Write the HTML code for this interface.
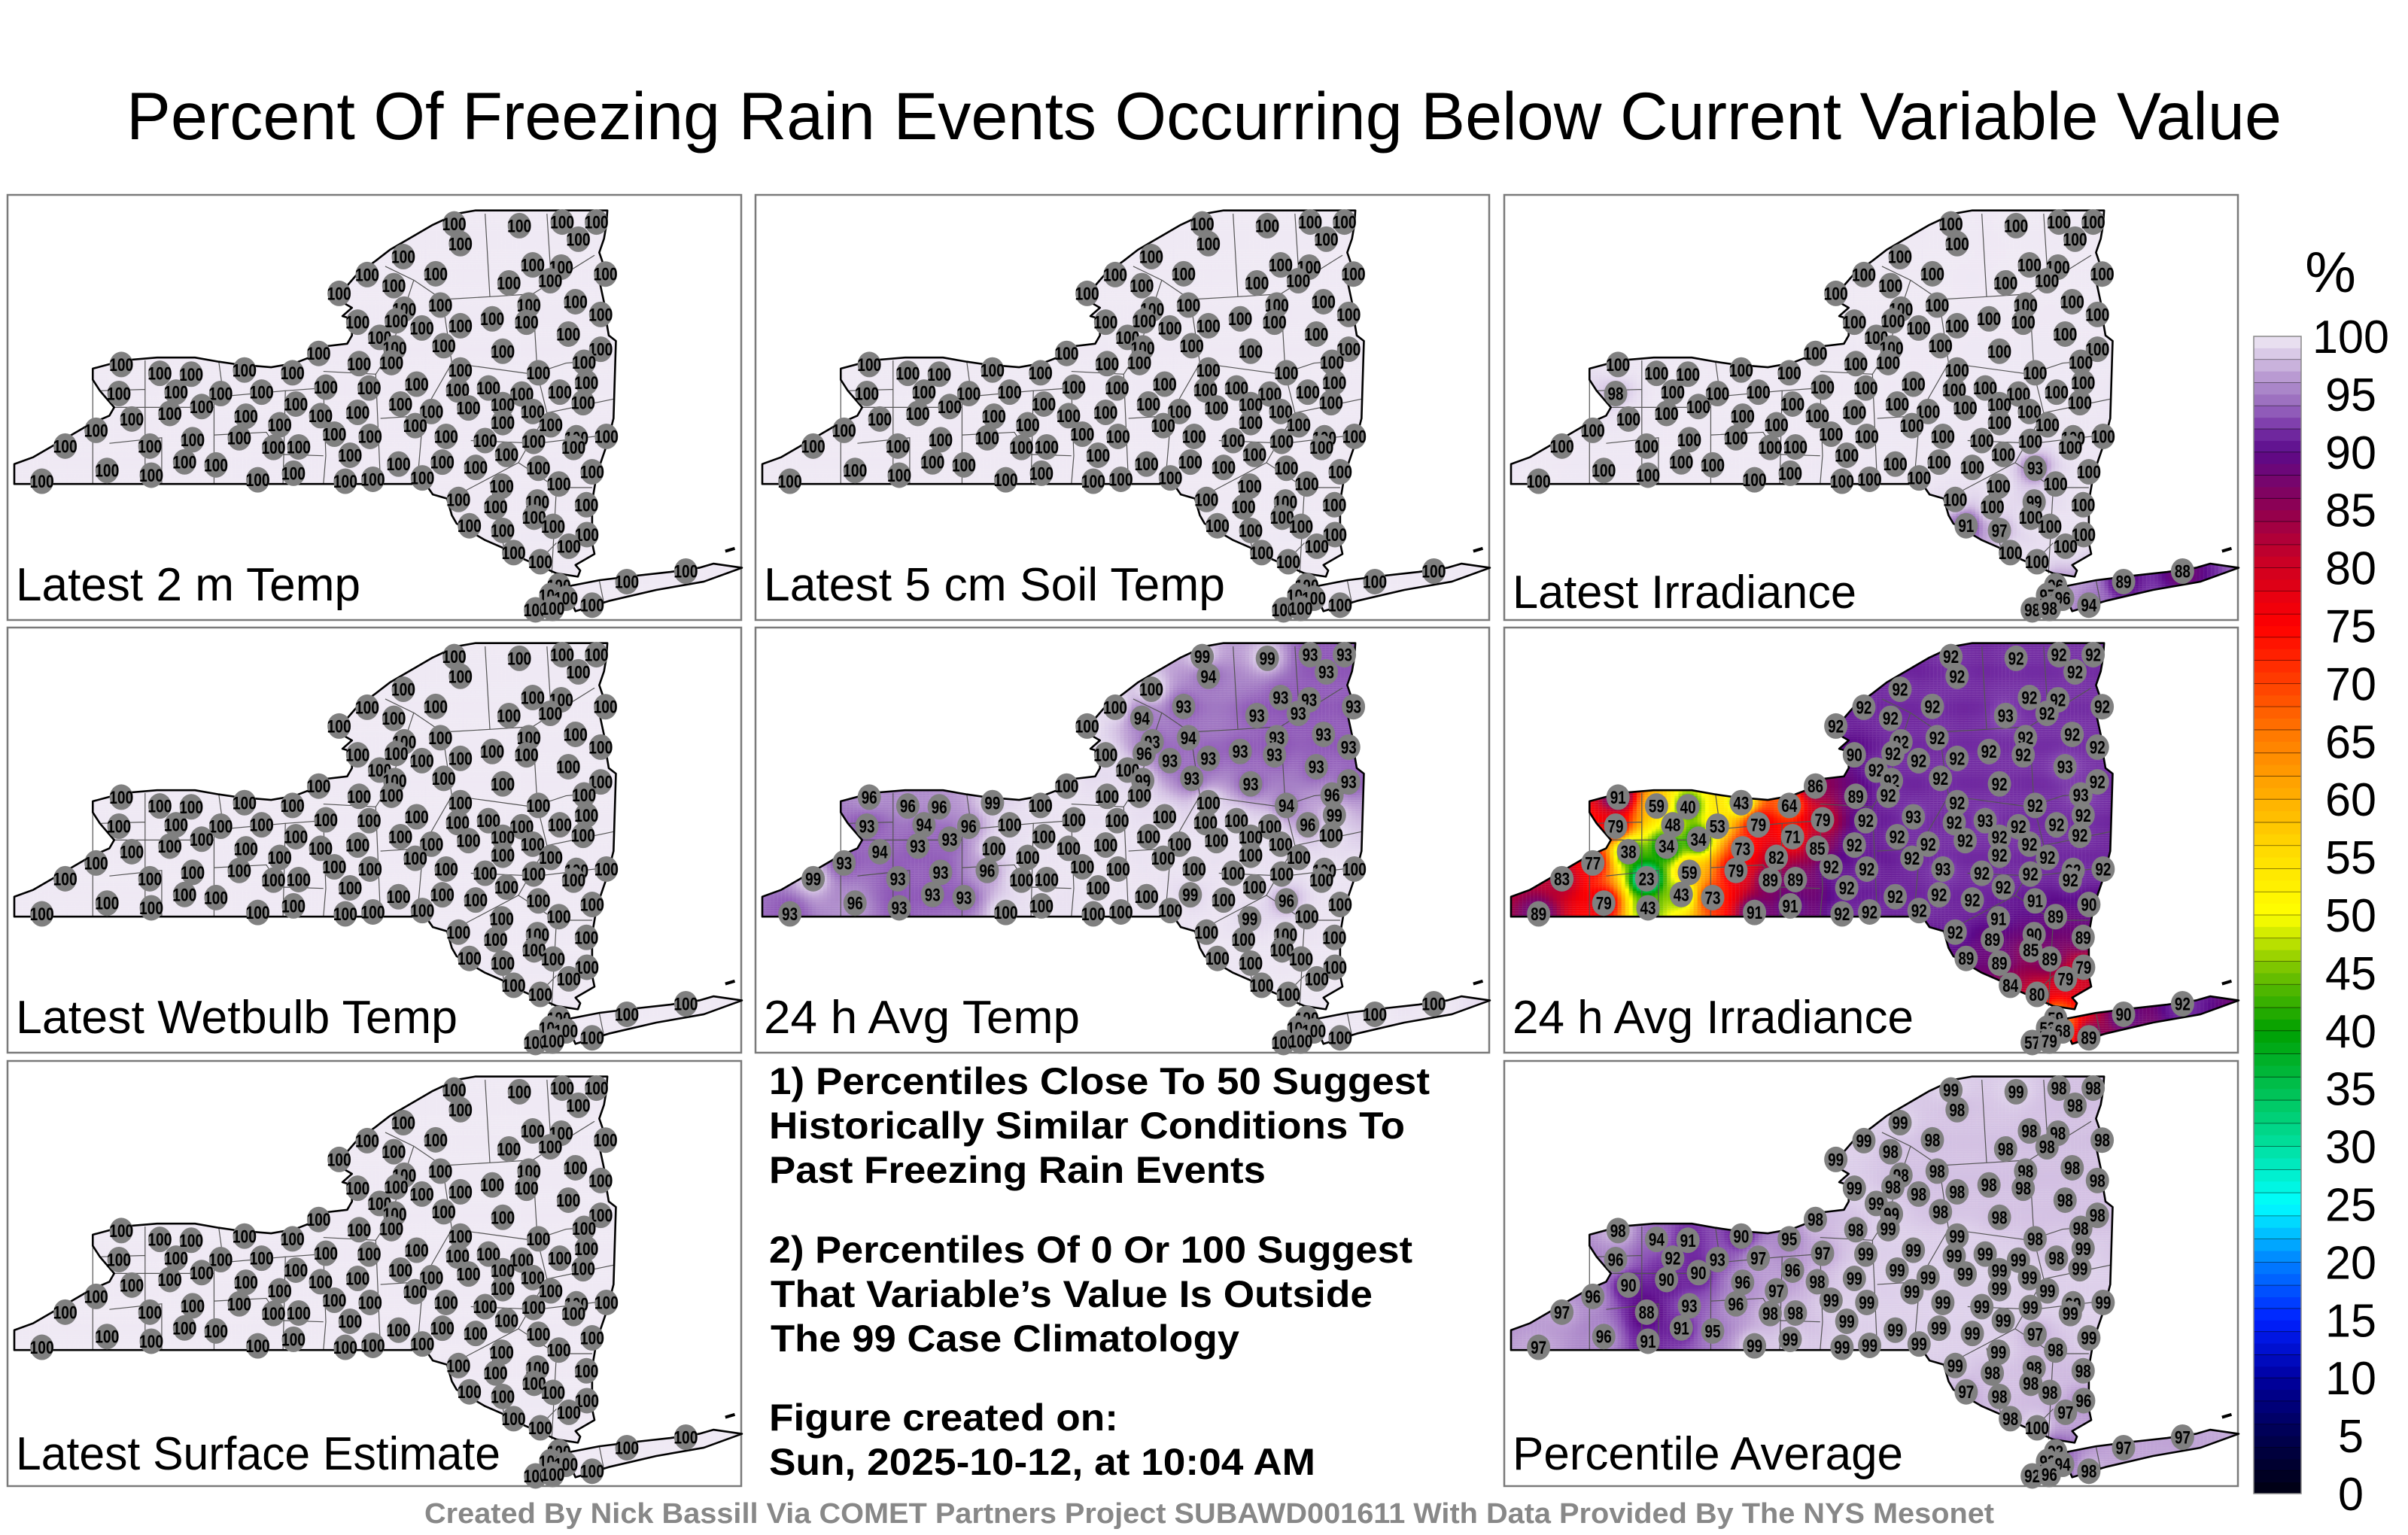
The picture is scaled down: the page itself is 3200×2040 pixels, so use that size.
<!DOCTYPE html>
<html><head><meta charset="utf-8">
<style>
html,body{margin:0;padding:0;background:#fff;}
#wrap{position:relative;width:3200px;height:2040px;overflow:hidden;background:#fff;}
#fills{position:absolute;left:0;top:0;}
#overlay{position:absolute;left:0;top:0;}
text{font-family:"Liberation Sans",Arial,sans-serif;}
</style></head>
<body>
<div id="wrap">
<canvas id="fills" width="3200" height="2040"></canvas>
<svg id="overlay" width="3200" height="2040" xmlns="http://www.w3.org/2000/svg">
<text x="168" y="185" font-size="89" textLength="2864" lengthAdjust="spacingAndGlyphs">Percent Of Freezing Rain Events Occurring Below Current Variable Value</text>
<g font-weight="bold" font-size="50">
<text x="1022" y="1454" textLength="878" lengthAdjust="spacingAndGlyphs">1) Percentiles Close To 50 Suggest</text>
<text x="1022" y="1513" textLength="845" lengthAdjust="spacingAndGlyphs">Historically Similar Conditions To</text>
<text x="1022" y="1572" textLength="660" lengthAdjust="spacingAndGlyphs">Past Freezing Rain Events</text>
<text x="1022" y="1678" textLength="855" lengthAdjust="spacingAndGlyphs">2) Percentiles Of 0 Or 100 Suggest</text>
<text x="1024" y="1737" textLength="800" lengthAdjust="spacingAndGlyphs">That Variable’s Value Is Outside</text>
<text x="1024" y="1796" textLength="623" lengthAdjust="spacingAndGlyphs">The 99 Case Climatology</text>
<text x="1022" y="1901" textLength="464" lengthAdjust="spacingAndGlyphs">Figure created on:</text>
<text x="1022" y="1960" textLength="726" lengthAdjust="spacingAndGlyphs">Sun, 2025-10-12, at 10:04 AM</text>
</g>
<text x="564" y="2024" font-size="38" font-weight="bold" fill="#888" textLength="2086" lengthAdjust="spacingAndGlyphs">Created By Nick Bassill Via COMET Partners Project SUBAWD001611 With Data Provided By The NYS Mesonet</text>
<text x="3097" y="388" font-size="76" text-anchor="middle">%</text>
<g id="panels"></g>
<g id="cbar"></g>
</svg>
</div>
<script>
// ---- data ----
const panelTitles = ["Latest 2 m Temp","Latest 5 cm Soil Temp","Latest Irradiance","Latest Wetbulb Temp","24 h Avg Temp","24 h Avg Irradiance","Latest Surface Estimate","Percentile Average"];
const cbarTicks = [0,5,10,15,20,25,30,35,40,45,50,55,60,65,70,75,80,85,90,95,100];
// station map coordinates (map units)
const stationLon = [925,1062,1152,1224,938,1186,818,742,886,1090,1150,1243,1040,1127,798,683,896,1082,1180,820,1233,722,803,857,938,1005,1077,768,1165,800,903,1233,1027,640,725,793,1198,225,306,372,484,585,938,1102,655,846,1203,220,340,434,520,746,932,997,1067,1147,1196,592,394,812,1027,327,487,644,722,877,955,1090,247,172,558,843,1027,1128,375,473,673,748,908,990,1092,1182,1245,1176,107,285,545,598,706,1035,358,424,808,900,970,1102,1215,195,288,587,512,696,754,858,58,1025,1145,934,1012,1100,1203,1093,957,1027,1133,1204,1166,1050,1106,1145,1288,1412,1128,1160,1096,1132,1215];
const stationLat = [97,103,90,90,168,152,215,280,277,245,253,278,310,302,320,348,390,390,378,405,424,452,447,473,465,440,452,507,495,545,537,550,557,565,602,598,597,605,637,640,625,635,625,635,687,676,670,710,705,710,705,690,697,690,712,705,743,748,757,748,750,782,792,790,778,775,762,775,802,843,823,826,815,823,877,870,857,865,865,880,883,870,865,905,900,900,905,903,933,930,957,968,965,958,977,980,993,988,1005,998,1022,1027,1020,1015,1027,1045,1037,1093,1120,1102,1112,1157,1188,1205,1190,1220,1262,1285,1318,1405,1390,1352,1440,1450,1492,1487,1475];
const latestIrradiance = [100,100,100,100,100,100,100,100,100,100,100,100,100,100,100,100,100,100,100,100,100,100,100,100,100,100,100,100,100,100,100,100,100,100,100,100,100,100,100,100,100,100,100,100,100,100,100,98,100,100,100,100,100,100,100,100,100,100,100,100,100,100,100,100,100,100,100,100,100,100,100,100,100,100,100,100,100,100,100,100,100,100,100,100,100,100,100,100,100,100,100,100,100,100,100,93,100,100,100,100,100,100,100,100,100,100,100,100,100,99,100,100,91,97,100,100,100,100,100,96,89,88,97,96,98,98,94];
const avgTemp = [99,99,93,93,94,93,100,100,93,93,93,93,93,93,94,100,94,93,93,93,93,100,96,93,93,93,93,100,93,99,93,93,93,100,100,100,96,96,96,96,99,100,100,94,100,100,99,93,94,96,100,100,100,100,100,96,100,100,93,100,100,93,100,100,100,100,100,100,94,93,100,100,100,100,93,96,100,100,100,100,100,100,100,100,99,93,100,100,100,100,93,93,100,99,100,96,100,96,93,100,100,100,100,100,93,99,100,100,100,100,100,100,100,100,100,100,100,100,100,100,100,100,100,100,100,100,100];
const avgIrradiance = [92,92,92,92,92,92,92,92,92,92,92,92,93,92,92,92,92,92,92,92,92,90,92,92,92,92,92,92,93,92,92,92,92,86,89,92,93,91,59,40,43,64,92,92,79,93,92,79,48,53,79,92,92,93,92,92,92,71,34,92,92,34,73,85,92,92,92,92,38,77,82,92,92,92,59,79,92,92,93,92,92,92,92,92,83,23,89,89,92,92,43,73,92,92,92,91,90,79,43,91,91,92,92,92,89,91,89,92,89,90,89,85,89,89,89,79,79,84,80,59,90,92,53,68,57,79,89];
const percentileAvg = [99,99,98,98,98,98,99,99,98,98,98,98,98,98,98,99,98,98,98,98,98,99,98,98,98,98,98,99,98,99,98,98,98,98,98,99,98,98,94,91,90,95,99,98,97,99,99,96,92,93,97,99,99,99,99,98,99,96,90,99,99,90,96,98,99,99,99,99,90,96,97,99,99,99,93,96,99,99,99,99,99,99,99,99,97,88,98,98,99,99,91,95,99,99,99,97,99,96,91,99,99,99,99,99,97,99,98,99,98,98,98,98,97,98,98,96,97,98,100,92,97,97,92,94,92,96,98];
const allHundred = stationLon.map(() => 100);
const panelValues = [allHundred, allHundred, latestIrradiance, allHundred, avgTemp, avgIrradiance, allHundred, percentileAvg];

// ---- geometry ----
const panelBoxes = [[10,259],[1004,259],[1999,259],[10,834],[1004,834],[1999,834],[10,1410],[1999,1410]];
const PW=975, PH=565, SX=0.632, SY=0.3676, OX=9, OY=3;
const stateD = "M0,965 L40,940 L100,880 L160,820 L200,790 L210,760 L180,700 L165,660 L165,620 L230,590 L300,580 L380,580 L430,595 L470,605 L540,615 L590,600 L620,580 L650,540 L700,530 L710,500 L710,440 L690,430 L710,400 L690,380 L700,320 L720,280 L760,230 L790,190 L840,140 L880,100 L930,60 L970,48 L1247,48 L1245,100 L1240,150 L1230,200 L1240,250 L1230,300 L1240,380 L1245,450 L1250,500 L1265,520 L1260,800 L1245,900 L1225,1000 L1215,1100 L1215,1250 L1220,1290 L1180,1330 L1190,1350 L1185,1372 L1140,1360 L1100,1330 L1060,1300 L1030,1270 L990,1240 L960,1210 L930,1180 L920,1150 L910,1090 L880,1075 L870,1050 L860,1037 L0,1037 Z "+
 "M1170,1405 L1230,1385 L1300,1370 L1380,1355 L1440,1340 L1470,1325 L1530,1340 L1450,1390 L1350,1420 L1250,1460 L1180,1497 L1165,1440 Z "+
 "M1100,1470 L1130,1455 L1150,1480 L1120,1500 L1090,1495 Z";
const countyD = "M165,620 L165,1037 M275,590 L275,1037 M180,700 L275,695 M210,760 L275,760 M200,890 L310,870 L310,1037 M275,760 L420,760 M420,700 L420,1037 M420,860 L530,850 L560,930 L650,935 M430,595 L440,720 L570,700 L565,1037 M570,700 L650,690 L655,935 L650,1037 M650,630 L760,640 L770,1037 M760,640 L790,560 L840,300 L780,250 M840,300 L900,370 L1000,360 L1090,350 L1220,210 M1000,360 L990,60 M1120,60 L1130,330 M900,370 L920,600 L860,780 L850,980 L860,1037 M770,800 L860,790 M920,600 L1090,640 L1160,600 L1230,590 M1090,350 L1100,640 L1120,780 L1260,730 M1120,780 L1060,960 L950,1060 M960,880 L1100,890 L1245,860 M1060,960 L1140,1050 L1215,1050 M1000,1030 L1030,1270 M1140,1050 L1130,1360 M1140,1250 L1100,1320 M1230,1385 L1240,1470";

const colorStops = [[0,[0,0,16]],[5,[0,0,80]],[10,[0,0,160]],[15,[0,32,255]],[20,[0,128,255]],[25,[0,255,255]],[30,[0,224,160]],[35,[0,192,80]],[40,[0,160,0]],[45,[112,192,0]],[50,[255,255,0]],[55,[255,224,0]],[60,[255,176,0]],[65,[255,128,0]],[70,[255,64,0]],[75,[255,0,0]],[80,[208,0,32]],[85,[144,0,80]],[90,[92,10,138]],[92,[117,48,165]],[93,[138,80,181]],[95,[163,124,196]],[97,[192,164,214]],[98,[210,191,226]],[99,[224,212,236]],[100,[239,233,244]]];
function colorOf(v){
  if(v<=0) return colorStops[0][1];
  for(let i=1;i<colorStops.length;i++){
    const a=colorStops[i-1], b=colorStops[i];
    if(v<=b[0]){const t=(v-a[0])/(b[0]-a[0]);return [0,1,2].map(k=>Math.round(a[1][k]+(b[1][k]-a[1][k])*t));}
  }
  return colorStops[colorStops.length-1][1];
}

// ---- fills ----
const ctx=document.getElementById('fills').getContext('2d');
const statePath=new Path2D(stateD);
panelBoxes.forEach((b,pi)=>{
  const vals=panelValues[pi];
  ctx.save();
  ctx.translate(b[0]+OX,b[1]+OY); ctx.scale(SX,SY);
  ctx.clip(statePath);
  const step=8;
  for(let y=40;y<1505;y+=step){
    for(let x=0;x<1540;x+=step){
      const cx=x+step/2, cy=y+step/2;
      let ws=0, vs=0;
      for(let s=0;s<stationLon.length;s++){
        const dx=(cx-stationLon[s])*SX, dy=(cy-stationLat[s])*SY;
        const d2=dx*dx+dy*dy+4;
        const w=1/Math.pow(d2,1.3);
        ws+=w; vs+=w*vals[s];
      }
      const c=colorOf(vs/ws);
      ctx.fillStyle='rgb('+c[0]+','+c[1]+','+c[2]+')';
      ctx.fillRect(x,y,step+0.6,step+0.6);
    }
  }
  ctx.restore();
});

// ---- svg panels ----
const NS='http://www.w3.org/2000/svg';
const pg=document.getElementById('panels');
function mk(tag,attrs,parent){const e=document.createElementNS(NS,tag);for(const k in attrs)e.setAttribute(k,attrs[k]);parent.appendChild(e);return e;}
const labelWidths=[458,613,457,587,420,533,644,519];
const labelDy=[26,26,16,26,26,26,22,22];
panelBoxes.forEach((b,pi)=>{
  const g=mk('g',{},pg);
  
  
  const box=mk('rect',{x:b[0],y:b[1],width:PW,height:PH,fill:'none',stroke:'#7a7a7a','stroke-width':2.5},g);
  
  
  const mg=mk('g',{transform:'translate('+(b[0]+OX)+','+(b[1]+OY)+') scale('+SX+','+SY+')'},g);
  const cty=mk('path',{d:countyD,fill:'none',stroke:'#555','stroke-width':1.2,'vector-effect':'non-scaling-stroke'},mg);
  
  
  const st=mk('path',{d:stateD,fill:'none',stroke:'#000','stroke-width':2.6,'stroke-linejoin':'round','vector-effect':'non-scaling-stroke'},mg);
  
  
  const isl=mk('path',{d:'M1495,1280 L1515,1270',fill:'none',stroke:'#000','stroke-width':4,'vector-effect':'non-scaling-stroke'},mg);
  
  
  const vals=panelValues[pi];
  stationLon.forEach((mx,s)=>{
    const x=b[0]+OX+mx*SX, y=b[1]+OY+stationLat[s]*SY;
    const sg=mk('g',{},g);
    
    
    mk('ellipse',{cx:x,cy:y,rx:15.5,ry:17,fill:'#808080'},sg);
    const label=String(vals[s]);
    const t=mk('text',{x:x,y:y+8.5,'font-size':24,'font-weight':'bold','text-anchor':'middle',textLength:label.length>2?32:21,lengthAdjust:'spacingAndGlyphs'},sg);
    t.textContent=label;
  });
  const tl=mk('text',{x:b[0]+11,y:b[1]+PH-labelDy[pi],'font-size':62,textLength:labelWidths[pi],lengthAdjust:'spacingAndGlyphs'},g);
  
  
  tl.textContent=panelTitles[pi];
});

// ---- colorbar ----
const cb=document.getElementById('cbar');
const CB_X=2995, CB_W=63, CB_TOP=447, CB_BOT=1985;
function cbY(v){return CB_BOT-(v/100)*(CB_BOT-CB_TOP);}
for(let v=0;v<100;v+=1){
  const c=colorOf(v+0.5);
  const r=mk('rect',{x:CB_X,y:cbY(v+1),width:CB_W,height:cbY(v)-cbY(v+1)+0.5,fill:'rgb('+c[0]+','+c[1]+','+c[2]+')'},cb);
  
  
}
for(let v=0;v<=100;v+=2){
  const l=mk('line',{x1:CB_X,x2:CB_X+CB_W,y1:cbY(v),y2:cbY(v),stroke:'#000','stroke-width':0.8,'stroke-opacity':0.6},cb);
  
  
}
const cbo=mk('rect',{x:CB_X,y:CB_TOP,width:CB_W,height:CB_BOT-CB_TOP,fill:'none',stroke:'#888','stroke-width':1.5},cb);


cbarTicks.forEach(v=>{
  const s=String(v);
  const t=mk('text',{x:3124,y:cbY(v)+22,'font-size':62,'text-anchor':'middle',textLength:s.length*34,lengthAdjust:'spacingAndGlyphs'},cb);
  
  
  t.textContent=s;
});
</script>
</body></html>
